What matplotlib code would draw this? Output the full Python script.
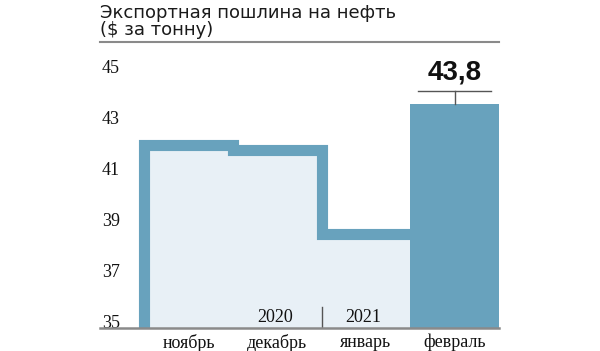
import matplotlib
matplotlib.use("Agg")
import matplotlib.pyplot as plt
import numpy as np

months = ["ноябрь", "декабрь", "январь", "февраль"]
values = [42.2, 42.0, 38.7, 43.8]
years = ["2020", "2021"]
ytick_vals = [35, 37, 39, 41, 43, 45]
highlight_label = "43,8"
title = "Экспортная пошлина на нефть\n($ за тонну)"

DARK = "#68a2bd"
LIGHT = "#e8f0f6"
W, H = 600, 351

fig = plt.figure(figsize=(6, 3.51), dpi=100)
ax = fig.add_axes([100 / W, 23 / H, 399 / W, (328 - 42) / H])
ax.set_xlim(-1.0, 3.5)
ax.set_ylim(35, 35 + (328 - 42) / 25.45)

x = np.arange(len(months))
# step area for first three months
xs, ys = [], []
for i in range(3):
    xs += [x[i] - 0.5, x[i] + 0.5]
    ys += [values[i], values[i]]
xs = np.array(xs)
ys = np.array(ys)
ax.fill_between(xs, 35, ys, color=LIGHT, lw=0, zorder=1)
# thick step line
lx = [x[0] - 0.5] + list(xs)
ly = [35] + list(ys)
ax.plot(lx, ly, color=DARK, lw=8, solid_joinstyle="miter", solid_capstyle="butt", zorder=2)

# February bar
ax.bar(x[3], values[3] - 35, bottom=35, width=1.0, color=DARK, lw=0, zorder=3)

# annotation
ax.plot([x[3], x[3]], [values[3], values[3] + 0.52], color="#555555", lw=1, zorder=4)
ax.plot([x[3] - 0.41, x[3] + 0.41], [values[3] + 0.52] * 2, color="#555555", lw=1, zorder=4)
ax.text(x[3], values[3] + 0.74, highlight_label, ha="center", va="bottom",
        fontsize=20, fontweight="bold", family="Liberation Sans",
        color="#111111")

# year divider and years
ax.plot([1.5, 1.5], [35, 35.82], color="#555555", lw=1, zorder=4)
for xi, yr in zip([x[1], x[2]], years):
    ax.text(xi - 0.03, 35.22, yr, ha="center", va="baseline", fontsize=13,
            family="Liberation Serif", color="#111111", zorder=5)

# axes styling
for s in ["top", "right", "left"]:
    ax.spines[s].set_visible(False)
ax.spines["bottom"].set_color("#8a8a8a")
ax.spines["bottom"].set_linewidth(1.8)
ax.spines["bottom"].set_zorder(6)

ax.set_xticks(x)
ax.set_xticklabels(months, family="Liberation Serif", fontsize=13, color="#111111")
ax.tick_params(axis="x", length=0, pad=4)

ax.set_yticks(ytick_vals)
ax.set_yticklabels([str(v) for v in ytick_vals], family="Liberation Serif", fontsize=13,
                   color="#111111")
ax.tick_params(axis="y", length=0, pad=-1.5)
for lab in ax.get_yticklabels():
    lab.set_horizontalalignment("left")
    lab.set_verticalalignment("baseline")

# title
fig.text(100 / W, 1 - 3.5 / H, title, ha="left", va="top", fontsize=13,
         family="DejaVu Sans", color="#1a1a1a", linespacing=0.95)
fig.add_artist(plt.Line2D([100 / W, 499 / W], [1 - 42 / H] * 2,
                          color="#8a8a8a", lw=1.5, transform=fig.transFigure))

fig.savefig("out.png", dpi=100)
